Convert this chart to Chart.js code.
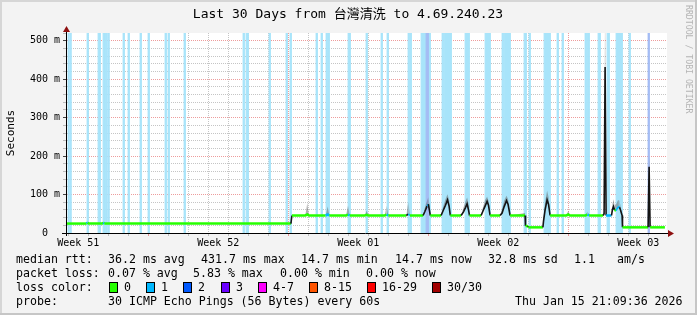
<!DOCTYPE html>
<html>
<head>
<meta charset="utf-8">
<script src="https://cdn.jsdelivr.net/npm/chart.js@4"></script>
<style>
  html, body { margin: 0; padding: 0; background: #f3f3f3; }
  canvas { display: block; }
</style>
</head>
<body>
<canvas id="chart" width="697" height="315"></canvas>
<script>
// x values are days counted from Monday of week 51, y values in ms

const viewStart = 2.935;
const viewEnd = 32.935;
const weekLabels = ["Week 51", "Week 52", "Week 01", "Week 02", "Week 03"];
const weekLabelAt = [3.5, 10.5, 17.5, 24.5, 31.5];
const weekStarts = [7, 14, 21, 28];

// periods with packet loss (light blue bars)
const lossStart = [2.99, 3.09, 3.94, 4.49, 4.74, 4.89, 4.99, 5.74, 5.99, 6.59, 6.99, 7.84, 7.99, 8.79,
  11.74, 11.89, 13.04, 13.89, 14.09, 15.39, 15.64, 15.89, 15.99, 16.99, 17.89, 18.64, 18.94, 19.99,
  20.09, 20.64, 21.69, 21.79, 22.84, 23.84, 24.69, 24.79, 25.79, 26.04, 26.79, 27.44, 27.69, 28.84,
  28.94, 29.49, 29.94, 30.39, 31.04];
const lossEnd = [3.03, 3.13, 3.99, 4.59, 4.84, 4.93, 5.03, 5.79, 6.04, 6.64, 7.04, 7.89, 8.04, 8.84,
  11.79, 11.99, 13.09, 13.94, 14.14, 15.44, 15.69, 15.94, 16.04, 17.09, 17.94, 18.69, 18.99, 20.04,
  20.14, 21.09, 21.74, 22.14, 23.04, 24.09, 24.74, 25.09, 25.89, 26.09, 27.09, 27.49, 27.74, 28.89,
  29.04, 29.59, 30.04, 30.69, 31.09];
const loss2Start = [20.89, 31.99];
const loss2End = [20.99, 32.04];

// median rtt and upper smoke
const medianX = [2.93, 3.92, 3.97, 4.02, 4.70, 4.75, 4.80, 14.13, 14.18,
  14.85, 14.95, 15.03, 15.87, 15.97, 16.05, 16.89, 16.99, 17.07, 17.82, 17.92, 18.0, 18.82, 18.92, 19.0, 19.9, 20.0, 20.08,
  20.74, 20.83, 20.94, 21.0, 21.06, 21.1,
  21.64, 21.74, 21.86, 21.96, 22.04, 22.1,
  22.64, 22.76, 22.86, 22.94, 23.01, 23.06,
  23.64, 23.74, 23.84, 23.94, 24.01, 24.09,
  24.59, 24.69, 24.79, 24.91, 24.99, 25.09,
  25.84, 25.86, 25.99, 26.0,
  26.73, 26.76, 26.84, 26.94, 27.01, 27.09,
  27.9, 28.0, 28.08, 28.86, 28.96, 29.04,
  29.74, 29.79, 29.84, 29.89,
  30.16, 30.21, 30.26, 30.31, 30.39, 30.49, 30.56, 30.61, 30.69, 30.71,
  31.99, 32.04, 32.09, 32.83];
const medianMs = [24.5, 24.5, 27, 24.5, 24.5, 27, 24.5, 24.5, 45.5,
  45.5, 48, 45.5, 45.5, 48, 45.5, 45.5, 48, 45.5, 45.5, 47, 45.5, 45.5, 48, 45.5, 45.5, 49, 45.5,
  45.5, 56, 70, 75, 58, 45.5,
  45.5, 58, 72, 86, 70, 45.5,
  45.5, 55, 66, 76, 60, 45.5,
  45.5, 58, 70, 82, 72, 45.5,
  45.5, 52, 68, 84, 74, 45.5,
  45.5, 18, 18, 14.7,
  14.7, 30, 60, 86, 75, 45.5,
  45.5, 48, 45.5, 45.5, 48, 45.5,
  45.5, 50, 431.7, 45.5,
  45.5, 62, 69, 60, 58, 68, 67, 60, 45.5, 14.7,
  14.7, 172, 14.7, 14.7];
const smokeMs = [24.5, 24.5, 31, 24.5, 24.5, 31, 24.5, 24.5, 45.5,
  45.5, 78, 45.5, 45.5, 69, 45.5, 45.5, 72, 45.5, 45.5, 58, 45.5, 45.5, 71, 45.5, 45.5, 82, 45.5,
  45.5, 66, 84, 93, 74, 45.5,
  45.5, 68, 88, 101, 86, 45.5,
  45.5, 66, 82, 92, 76, 45.5,
  45.5, 68, 86, 94, 84, 45.5,
  45.5, 62, 84, 97, 88, 45.5,
  52, 18, 18, 14.7,
  14.7, 38, 80, 110, 94, 45.5,
  45.5, 58, 45.5, 45.5, 56, 45.5,
  45.5, 60, 600, 45.5,
  45.5, 76, 88, 74, 74, 86, 84, 70, 45.5, 14.7,
  14.7, 200, 14.7, 14.7];

const yMax = 520;

// legend texts
const titleText = "Last 30 Days from 台灣清洗 to 4.69.240.23";
const rttStats = ["36.2 ms avg", "431.7 ms max", "14.7 ms min", "14.7 ms now", "32.8 ms sd", "1.1", "am/s"];
const rttStatX = [108, 201, 301, 395, 488, 574, 617];
const lossStats = ["0.07 % avg", "5.83 % max", "0.00 % min", "0.00 % now"];
const lossStatX = [108, 193, 280, 366];
const lossColorLabels = ["0", "1", "2", "3", "4-7", "8-15", "16-29", "30/30"];
const lossColors = ["#26ff00", "#00b8ff", "#0059ff", "#6a00ff", "#ff00ff", "#ff5500", "#ff0000", "#a10000"];
const lossBoxX = [108.5, 146, 183, 220.5, 258, 309, 367, 432];
const probeText = "30 ICMP Echo Pings (56 Bytes) every 60s";
const dateText = "Thu Jan 15 21:09:36 2026";

const MONO = '"DejaVu Sans Mono", "Noto Sans CJK TC", monospace';
const RED_GRID = "rgba(225,90,90,0.6)";
const GRAY_GRID = "rgba(140,140,140,0.5)";
const BAND_BLUE = "#a8e4fa";
const BAND_VIOLET = "#a4bcf4";

function bandPoints(starts, ends) {
  const pts = [];
  starts.forEach((s, i) => {
    pts.push({ x: s, y: 0 }, { x: s, y: yMax }, { x: ends[i], y: yMax }, { x: ends[i], y: 0 });
  });
  return pts;
}

// only the vertical edges of a band get a stroke, so thin bands stay solid
function bandEdge(color) {
  return ctx => (Math.abs(ctx.p0.x - ctx.p1.x) < 0.01 ? color : "rgba(0,0,0,0)");
}

function inLoss(x) {
  for (let i = 0; i < lossStart.length; i++) {
    if (x >= lossStart[i] && x <= lossEnd[i]) return true;
  }
  return false;
}

function segInfo(ctx) {
  const dx = Math.abs(ctx.p1.x - ctx.p0.x);
  const dy = Math.abs(ctx.p1.y - ctx.p0.y);
  const mid = (medianX[ctx.p0DataIndex] + medianX[ctx.p1DataIndex]) / 2;
  return { flat: dy < 1.2, steep: dy > 2 * dx, loss: inLoss(mid) };
}

const chromePlugin = {
  id: "chrome",
  beforeDraw(chart) {
    const c = chart.ctx;
    const a = chart.chartArea;
    c.save();
    c.fillStyle = "#f3f3f3";
    c.fillRect(0, 0, chart.width, chart.height);
    c.fillStyle = "#d6d6d6";
    c.fillRect(0, 0, chart.width, 2);
    c.fillRect(0, 0, 2, chart.height);
    c.fillStyle = "#c6c6c6";
    c.fillRect(0, chart.height - 2, chart.width, 2);
    c.fillRect(chart.width - 2, 0, 2, chart.height);
    c.fillStyle = "#ffffff";
    c.fillRect(a.left, a.top, a.right - a.left, a.bottom - a.top);
    c.restore();
  },
  afterDraw(chart) {
    const c = chart.ctx;
    const a = chart.chartArea;
    c.save();
    // axes
    c.strokeStyle = "#000";
    c.lineWidth = 1;
    c.beginPath();
    c.moveTo(a.left - 5, a.bottom + 0.5);
    c.lineTo(a.right + 2, a.bottom + 0.5);
    c.moveTo(a.left - 0.5, a.bottom + 3);
    c.lineTo(a.left - 0.5, a.top - 5);
    c.stroke();
    c.fillStyle = "#8e1010";
    c.beginPath();
    c.moveTo(a.right + 7, a.bottom + 0.5);
    c.lineTo(a.right + 1, a.bottom - 3);
    c.lineTo(a.right + 1, a.bottom + 4);
    c.closePath();
    c.fill();
    c.beginPath();
    c.moveTo(a.left - 0.5, a.top - 7);
    c.lineTo(a.left - 4, a.top - 1);
    c.lineTo(a.left + 3, a.top - 1);
    c.closePath();
    c.fill();

    // title
    c.fillStyle = "#000";
    c.font = "13px " + MONO;
    c.textAlign = "center";
    c.textBaseline = "middle";
    c.fillText(titleText, 348, 15);

    // y axis name
    c.save();
    c.translate(11, 133);
    c.rotate(-Math.PI / 2);
    c.font = "11px " + MONO;
    c.fillText("Seconds", 0, 0);
    c.restore();

    // watermark
    c.save();
    c.translate(688, 5);
    c.rotate(Math.PI / 2);
    c.font = "8.2px " + MONO;
    c.fillStyle = "#b4b4b4";
    c.textAlign = "left";
    c.fillText("RRDTOOL / TOBI OETIKER", 0, 0);
    c.restore();

    // legend
    c.font = "11.6px " + MONO;
    c.textAlign = "left";
    c.fillStyle = "#000";
    c.fillText("median rtt:", 16, 259.5);
    rttStats.forEach((t, i) => c.fillText(t, rttStatX[i], 259.5));
    c.fillText("packet loss:", 16, 273.5);
    lossStats.forEach((t, i) => c.fillText(t, lossStatX[i], 273.5));
    c.fillText("loss color:", 16, 287.5);
    lossColorLabels.forEach((t, i) => {
      const bx = Math.round(lossBoxX[i]);
      c.fillStyle = lossColors[i];
      c.fillRect(bx, 282, 9, 11);
      c.strokeStyle = "#000";
      c.strokeRect(bx + 0.5, 282.5, 8, 10);
      c.fillStyle = "#000";
      c.fillText(t, bx + 15, 287.5);
    });
    c.fillText("probe:", 16, 301.5);
    c.fillText(probeText, 108, 301.5);
    c.fillText(dateText, 515, 301.5);
    c.restore();
  }
};

const xTicks = [];
for (let d = Math.ceil(viewStart); d <= Math.floor(viewEnd); d++) xTicks.push({ value: d });
weekLabelAt.forEach(v => xTicks.push({ value: v }));
xTicks.sort((p, q) => p.value - q.value);

function xGridColor(ctx) {
  const v = ctx.tick ? ctx.tick.value : null;
  if (v === null || weekLabelAt.includes(v)) return "rgba(0,0,0,0)";
  return weekStarts.includes(v) ? RED_GRID : GRAY_GRID;
}

function yGridColor(ctx) {
  const v = ctx.tick ? ctx.tick.value : null;
  if (v === null || v <= 0 || v > 500) return "rgba(0,0,0,0)";
  return v % 100 === 0 ? RED_GRID : GRAY_GRID;
}

new Chart(document.getElementById("chart"), {
  type: "line",
  data: {
    datasets: [
      {
        label: "loss",
        data: bandPoints(lossStart, lossEnd),
        fill: "origin",
        backgroundColor: BAND_BLUE,
        borderColor: BAND_BLUE,
        borderWidth: 1,
        pointRadius: 0,
        order: 4,
        segment: { borderColor: bandEdge(BAND_BLUE) }
      },
      {
        label: "loss2",
        data: bandPoints(loss2Start, loss2End),
        fill: "origin",
        backgroundColor: BAND_VIOLET,
        borderColor: BAND_VIOLET,
        borderWidth: 1,
        pointRadius: 0,
        order: 3,
        segment: { borderColor: bandEdge(BAND_VIOLET) }
      },
      {
        label: "smoke",
        data: medianX.map((x, i) => ({ x: x, y: smokeMs[i] })),
        fill: 3,
        backgroundColor: "rgba(100,100,100,0.5)",
        borderColor: "rgba(0,0,0,0)",
        borderWidth: 0,
        pointRadius: 0,
        order: 2
      },
      {
        label: "median rtt",
        data: medianX.map((x, i) => ({ x: x, y: medianMs[i] })),
        fill: false,
        borderColor: lossColors[0],
        borderWidth: 2.5,
        pointRadius: 0,
        tension: 0,
        order: 1,
        segment: {
          borderColor: ctx => {
            const s = segInfo(ctx);
            if (s.steep) return "#141414";
            if (s.loss) return lossColors[1];
            return s.flat ? lossColors[0] : "#141414";
          },
          borderWidth: ctx => (segInfo(ctx).flat ? 2.5 : 1.6)
        }
      }
    ]
  },
  options: {
    responsive: false,
    animation: false,
    devicePixelRatio: 1,
    layout: { padding: { top: 33, right: 30, bottom: 0, left: 0 } },
    plugins: {
      legend: { display: false },
      tooltip: { enabled: false },
      title: { display: false }
    },
    scales: {
      x: {
        type: "linear",
        min: viewStart,
        max: viewEnd,
        z: 1,
        afterFit: s => { s.height = 82; },
        afterBuildTicks: s => { s.ticks = xTicks.map(t => ({ value: t.value })); },
        border: { display: false, dash: [1, 1] },
        grid: {
          color: xGridColor,
          tickColor: xGridColor,
          tickLength: 3,
          lineWidth: 1
        },
        ticks: {
          autoSkip: false,
          maxRotation: 0,
          minRotation: 0,
          padding: 1,
          color: "#000",
          font: { family: MONO, size: 10 },
          callback: v => {
            const i = weekLabelAt.indexOf(v);
            return i >= 0 ? weekLabels[i] : "";
          }
        }
      },
      y: {
        type: "linear",
        min: 0,
        max: yMax,
        z: 1,
        afterFit: s => { s.width = 67; },
        border: { display: false, dash: [1, 1] },
        grid: {
          color: yGridColor,
          tickColor: ctx => (ctx.tick && ctx.tick.value % 100 === 0 ? "#444" : "#bbb"),
          tickLength: 4,
          lineWidth: 1
        },
        ticks: {
          stepSize: 20,
          autoSkip: false,
          padding: 3,
          color: "#000",
          font: { family: MONO, size: 10 },
          callback: v => (v % 100 === 0 && v <= 500 ? (v === 0 ? "0  " : v + " m") : "")
        }
      }
    }
  },
  plugins: [chromePlugin]
});
</script>
</body>
</html>
